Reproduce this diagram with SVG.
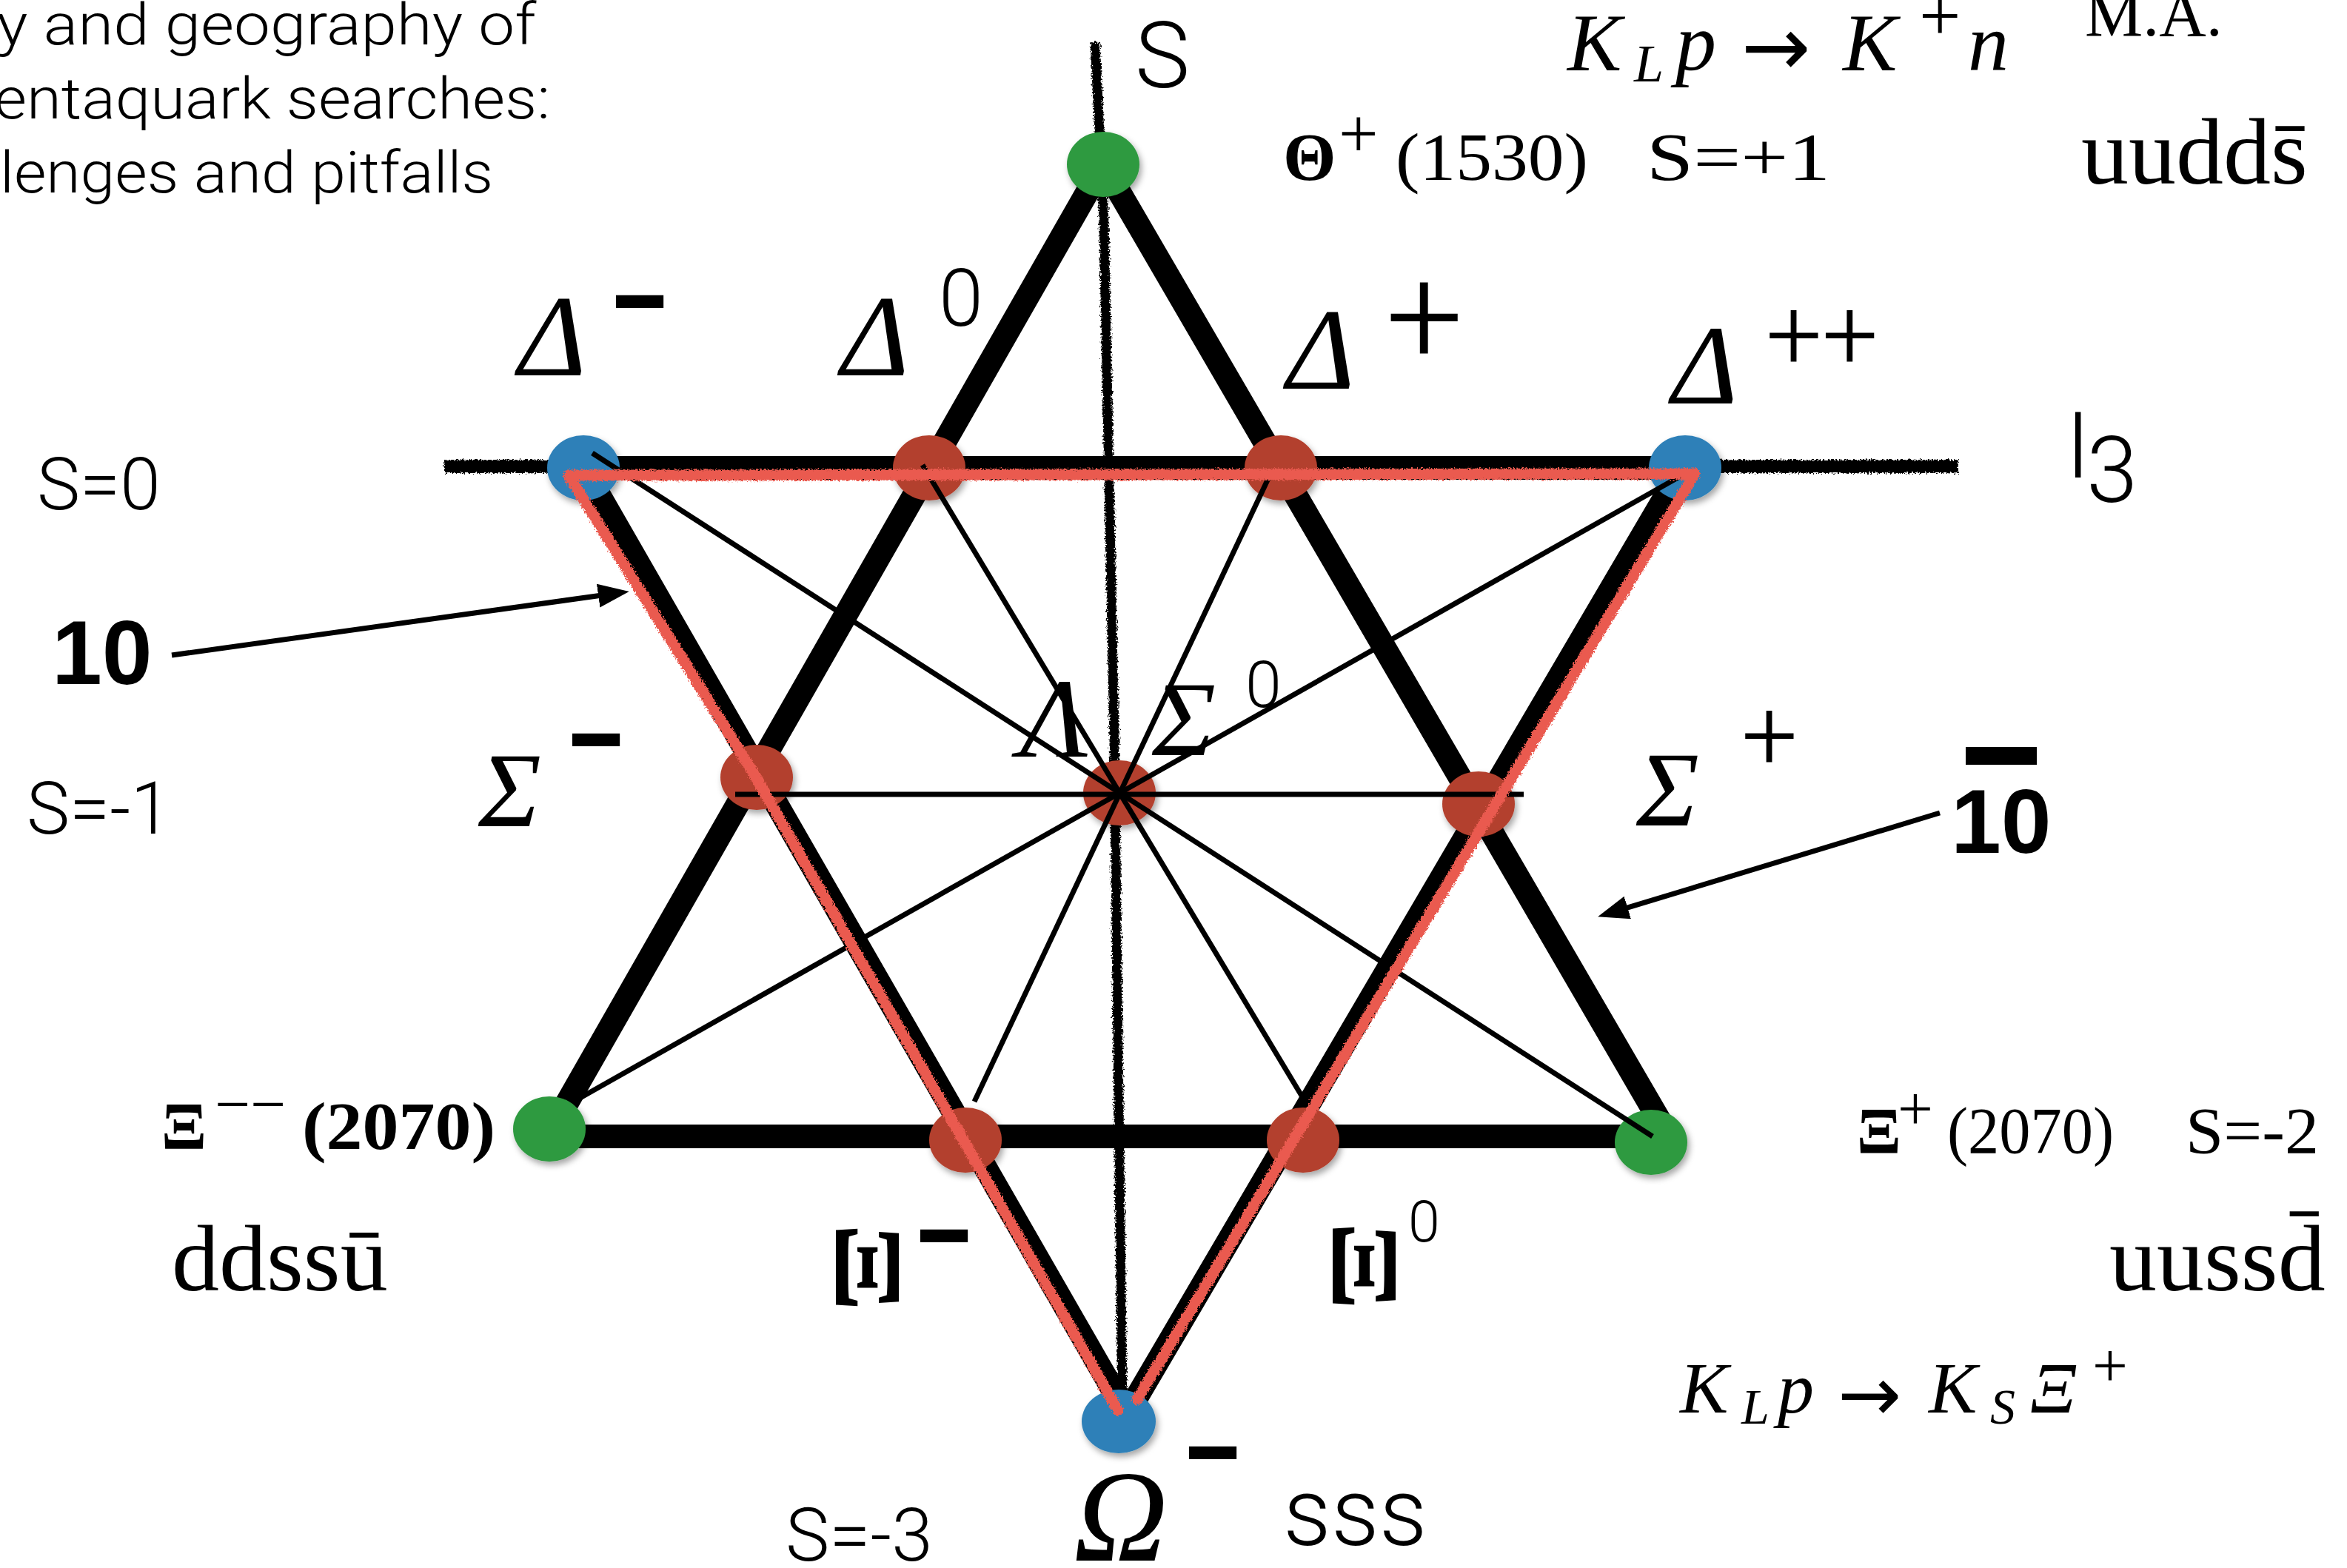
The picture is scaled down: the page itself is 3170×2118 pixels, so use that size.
<svg xmlns="http://www.w3.org/2000/svg" width="3170" height="2118" viewBox="0 0 3170 2118">
<defs>
<style>
.sans{font-family:Roboto,"Liberation Sans",Arial,sans-serif;font-weight:300;fill:#000}
.bsans{font-family:"Liberation Sans",Arial,sans-serif;font-weight:bold;fill:#000}
.serif{font-family:"Liberation Serif","DejaVu Serif",serif;fill:#000}
.arr{font-family:"DejaVu Sans","Liberation Sans",sans-serif;fill:#000}
.it{font-style:italic}
.bf{font-weight:bold}
.bar{font-family:"Liberation Sans",Arial,sans-serif;font-weight:bold;font-size:120px;text-anchor:middle;fill:#000;stroke:#000;stroke-width:4}
.thick{fill:none;stroke:#000;stroke-width:32;stroke-linejoin:round}
.thin{stroke:#000;stroke-width:7;fill:none}
.axis{stroke:#000;fill:none;stroke-linecap:butt}
.red{fill:none;stroke:#ea5a50;stroke-width:15;stroke-linejoin:round;stroke-linecap:round}
.green{fill:#2f9a40}
.blue{fill:#2e80b8}
.rednode{fill:#b3412d}
.arrow{stroke:#000;stroke-width:7;fill:none}
</style>
<filter id="rough" filterUnits="userSpaceOnUse" x="0" y="0" width="3170" height="2118">
<feTurbulence type="fractalNoise" baseFrequency="0.45" numOctaves="2" seed="3" result="n"/>
<feDisplacementMap in="SourceGraphic" in2="n" scale="8" xChannelSelector="R" yChannelSelector="G"/>
</filter>
<filter id="shadow" x="-30%" y="-30%" width="160%" height="160%">
<feDropShadow dx="3" dy="5" stdDeviation="4" flood-color="#000" flood-opacity="0.35"/>
</filter>
<marker id="ah" markerUnits="userSpaceOnUse" markerWidth="42" markerHeight="32" refX="16" refY="16" orient="auto">
<path d="M0,0 L42,16 L0,32 Z" fill="#000"/>
</marker>
</defs>
<rect width="3170" height="2118" fill="#fff"/>

<g id="title" class="sans" font-size="77">
<text x="-4" y="60" textLength="728" lengthAdjust="spacingAndGlyphs">y and geography of</text>
<text x="-8" y="160" textLength="751" lengthAdjust="spacingAndGlyphs">entaquark searches:</text>
<text x="0" y="260" textLength="666" lengthAdjust="spacingAndGlyphs">lenges and pitfalls</text>
</g>

<g id="axes">
<path class="axis" filter="url(#rough)" stroke-width="13" d="M1479,57 L1491,300 L1505,1000 L1516,1900"/>
<path class="axis" filter="url(#rough)" stroke-width="18" d="M600,630 L2645,630"/>
<text class="sans" x="1533" y="118" font-size="125">S</text>
<text class="sans" x="2790" y="645" font-size="125">I<tspan x="2818" y="678">3</tspan></text>
</g>

<g id="connectors">
<path class="thick" d="M1490,222 L740,1535 L2254,1535 Z"/>
<path class="thick" d="M788,632 L2272,632 L1522,1910 Z"/>
</g>

<g id="nodes" filter="url(#shadow)">
<g id="n-theta"><ellipse class="green" cx="1490" cy="222" rx="49" ry="44"/></g>
<g id="n-delta-minus"><ellipse class="blue" cx="788" cy="632" rx="49" ry="44"/></g>
<g id="n-delta-0"><ellipse class="rednode" cx="1255" cy="632" rx="49" ry="44"/></g>
<g id="n-delta-plus"><ellipse class="rednode" cx="1730" cy="632" rx="49" ry="44"/></g>
<g id="n-delta-pp"><ellipse class="blue" cx="2276" cy="632" rx="49" ry="44"/></g>
<g id="n-sigma-minus"><ellipse class="rednode" cx="1022" cy="1050" rx="49" ry="44"/></g>
<g id="n-lambda-sigma0"><ellipse class="rednode" cx="1512" cy="1071" rx="49" ry="44"/></g>
<g id="n-sigma-plus"><ellipse class="rednode" cx="1997" cy="1086" rx="49" ry="44"/></g>
<g id="n-xi-mm"><ellipse class="green" cx="742" cy="1525" rx="49" ry="44"/></g>
<g id="n-xi-minus"><ellipse class="rednode" cx="1304" cy="1540" rx="49" ry="44"/></g>
<g id="n-xi-0"><ellipse class="rednode" cx="1760" cy="1540" rx="49" ry="44"/></g>
<g id="n-xi-plus"><ellipse class="green" cx="2230" cy="1543" rx="49" ry="44"/></g>
<g id="n-omega"><ellipse class="blue" cx="1511" cy="1920" rx="50" ry="43"/></g>
</g>

<g id="thin-connectors">
<line class="thin" x1="800" y1="612" x2="2232" y2="1535"/>
<line class="thin" x1="2270" y1="643" x2="780" y2="1485"/>
<line class="thin" x1="1246" y1="628" x2="1770" y2="1500"/>
<line class="thin" x1="1716" y1="640" x2="1316" y2="1488"/>
<line class="thin" x1="993" y1="1073" x2="2058" y2="1073"/>
</g>

<g id="red-decuplet">
<path class="red" filter="url(#rough)" d="M1510,1905 L1018,1045 L768,642 L2289,640 L1536,1890"/>
</g>

<g id="arrows">
<line class="arrow" x1="232" y1="885" x2="824" y2="802.5" marker-end="url(#ah)"/>
<line class="arrow" x1="2620" y1="1098" x2="2183" y2="1230.7" marker-end="url(#ah)"/>
</g>

<g id="labels">
<text class="serif it" x="700" y="507" font-size="157">Δ</text>
<text class="bar" x="864" y="447">−</text>
<text class="serif it" x="1136" y="507" font-size="157">Δ</text>
<text class="sans" x="1268" y="440" font-size="108">0</text>
<text class="serif it" x="1738" y="525" font-size="157">Δ</text>
<text class="sans" x="1924" y="491" font-size="185" text-anchor="middle">+</text>
<text class="serif it" x="2258" y="545" font-size="152">Δ</text>
<text class="sans" x="2461" y="498" font-size="134" text-anchor="middle" font-weight="400">++</text>
<text class="serif it" x="646" y="1116" font-size="143">Σ</text>
<text class="bar" x="805" y="1039">−</text>
<text class="serif it" x="1378" y="1022" font-size="152">Λ</text>
<text class="serif it" x="1556" y="1020" font-size="145">Σ</text>
<text class="sans" x="1682" y="955" font-size="88">0</text>
<text class="serif it" x="2210" y="1115" font-size="143">Σ</text>
<text class="sans" x="2390" y="1039" font-size="134" text-anchor="middle">+</text>
<text class="serif bf" transform="translate(1172,1712) rotate(90) scale(1.38,1)" x="0" y="43" font-size="130" text-anchor="middle">Ξ</text>
<text class="bar" x="1275" y="1709">−</text>
<text class="serif bf" transform="translate(1843,1710) rotate(90) scale(1.38,1)" x="0" y="43" font-size="130" text-anchor="middle">Ξ</text>
<text class="sans" x="1902" y="1677" font-size="77">0</text>
<text class="serif it" x="1450" y="2108" font-size="176">Ω</text>
<text class="bar" x="1638" y="2002">−</text>

<text class="sans" x="50" y="688" font-size="98">S=0</text>
<text class="sans" x="36" y="1126" font-size="98">S=-1</text>
<text class="sans" x="1061" y="2108" font-size="100">S=-3</text>
<text class="sans" x="1733" y="2087" font-size="128">sss</text>

<text class="bsans" x="70" y="924" font-size="122">10</text>
<rect x="2655" y="1009" width="96" height="24" fill="#000"/>
<text class="bsans" x="2635" y="1152" font-size="122">10</text>

<text class="serif bf" x="1733" y="243" font-size="92">Θ</text>
<text class="serif" x="1808" y="212" font-size="95">+</text>
<text class="serif" x="1885" y="243" font-size="92" textLength="260" lengthAdjust="spacingAndGlyphs">(1530)</text>
<text class="serif" x="2224" y="243" font-size="92" textLength="248" lengthAdjust="spacingAndGlyphs">S=+1</text>
<text class="serif" x="2811" y="248" font-size="128">uudds̄</text>
<text class="serif" x="2816" y="48" font-size="88">M.A.</text>

<text class="serif bf" x="218" y="1552" font-size="90">Ξ</text>
<text class="serif" x="290" y="1520" font-size="85">−−</text>
<text class="serif bf" x="408" y="1552" font-size="92" textLength="261" lengthAdjust="spacingAndGlyphs">(2070)</text>
<text class="serif" x="232" y="1743" font-size="128">ddssū</text>

<text class="serif bf" x="2508" y="1557" font-size="88">Ξ</text>
<text class="serif" x="2563" y="1526" font-size="85">+</text>
<text class="serif" x="2630" y="1557" font-size="88" textLength="225" lengthAdjust="spacingAndGlyphs">(2070)</text>
<text class="serif" x="2952" y="1557" font-size="88" textLength="180" lengthAdjust="spacingAndGlyphs">S=-2</text>
<text class="serif" x="2849" y="1743" font-size="128">uussd̄</text>
</g>

<g id="reaction-top" class="serif">
<text class="it" x="2117" y="95" font-size="110">K</text>
<text class="it" x="2207" y="110" font-size="72">L</text>
<text class="it" x="2263" y="95" font-size="110">p</text>
<text class="arr" x="2352" y="102" font-size="112">→</text>
<text class="it" x="2489" y="95" font-size="110">K</text>
<text x="2592" y="55" font-size="100">+</text>
<text class="it" x="2658" y="95" font-size="110">n</text>
</g>

<g id="reaction-bottom" class="serif">
<text class="it" x="2269" y="1908" font-size="98">K</text>
<text class="it" x="2352" y="1923" font-size="68">L</text>
<text class="it" x="2401" y="1908" font-size="98">p</text>
<text class="arr" x="2482" y="1919" font-size="103">→</text>
<text class="it" x="2605" y="1908" font-size="98">K</text>
<text class="it" x="2688" y="1923" font-size="68">S</text>
<text class="it" x="2742" y="1908" font-size="98">Ξ</text>
<text x="2826" y="1873" font-size="85">+</text>
</g>
</svg>
